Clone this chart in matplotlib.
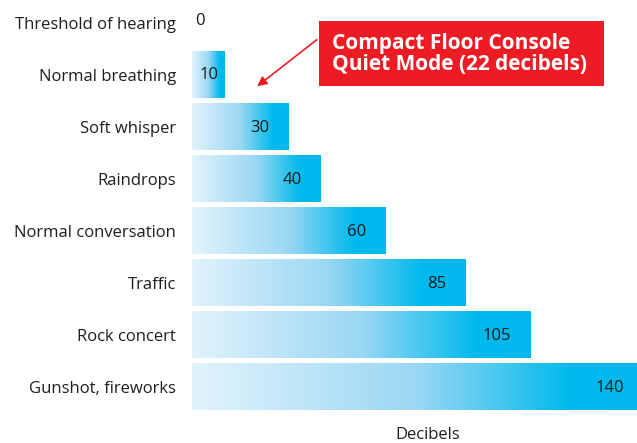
import numpy as np
import matplotlib
matplotlib.use("Agg")
import matplotlib.pyplot as plt
from matplotlib.colors import LinearSegmentedColormap
from matplotlib.patches import Rectangle, FancyArrowPatch

SOURCES = [
    "Threshold of hearing",
    "Normal breathing",
    "Soft whisper",
    "Raindrops",
    "Normal conversation",
    "Traffic",
    "Rock concert",
    "Gunshot, fireworks",
]
DECIBELS = [0, 10, 30, 40, 60, 85, 105, 140]
CALLOUT = "Compact Floor Console\nQuiet Mode (22 decibels)"

W, H = 637, 443
plt.rcParams["font.family"] = ["Open Sans", "DejaVu Sans"]

fig = plt.figure(figsize=(W / 100, H / 100), dpi=100)
# axes from x=192px, 3.22 px per decibel, y=0px to 413px (top-down)
ax = fig.add_axes([192 / W, (H - 413) / H, 451 / W, 413 / H])

cmap = LinearSegmentedColormap.from_list(
    "blue", [(0, "#e2f3fc"), (0.5, "#9ad7f3"), (0.84, "#00baed"), (1, "#00b8ec")]
)
grad = np.linspace(0, 1, 256).reshape(1, -1)

for i, (name, val) in enumerate(zip(SOURCES, DECIBELS)):
    if val > 0:
        ax.imshow(grad, cmap=cmap, aspect="auto",
                  extent=(0, val, i + 0.45, i - 0.45), zorder=1)
        if val <= 10:
            ax.text(val - 4.8, i, str(val), ha="center", va="center",
                    fontsize=12, color="#1a1a1a", zorder=3)
        else:
            ax.text(val - 6, i + 0.02, str(val), ha="right", va="center",
                    fontsize=12, color="#1a1a1a", zorder=3)
    else:
        ax.text(2.5, i - 0.04, "0", ha="center", va="center",
                fontsize=12, color="#1a1a1a")

ax.set_xlim(0, 140)
ax.set_ylim(7.5, -23 / 52)
ax.set_yticks(range(len(SOURCES)))
ax.set_yticklabels(SOURCES, fontsize=12, color="#1e1e1e")
ax.tick_params(axis="y", length=0, pad=11.5)
ax.set_xticks([])
for s in ax.spines.values():
    s.set_visible(False)

fig.text(428 / W, 1 - 435 / H, "Decibels", ha="center", va="center",
         fontsize=12, color="#1e1e1e")

# callout box
fig.add_artist(Rectangle((319 / W, 1 - 86 / H), 285 / W, 65 / H,
                         transform=fig.transFigure, facecolor="#ed1c24",
                         edgecolor="none"))
fig.text(332 / W, 1 - 53.5 / H, CALLOUT, ha="left", va="center",
         fontsize=15, fontweight="bold", color="white", linespacing=1.0)
fig.add_artist(FancyArrowPatch(
    (319 / W, 1 - 38 / H), (255 / W, 1 - 88 / H),
    transform=fig.transFigure, arrowstyle="-|>", mutation_scale=14,
    color="#ed1c24", linewidth=1.2))

fig.savefig("out.png", dpi=100)
